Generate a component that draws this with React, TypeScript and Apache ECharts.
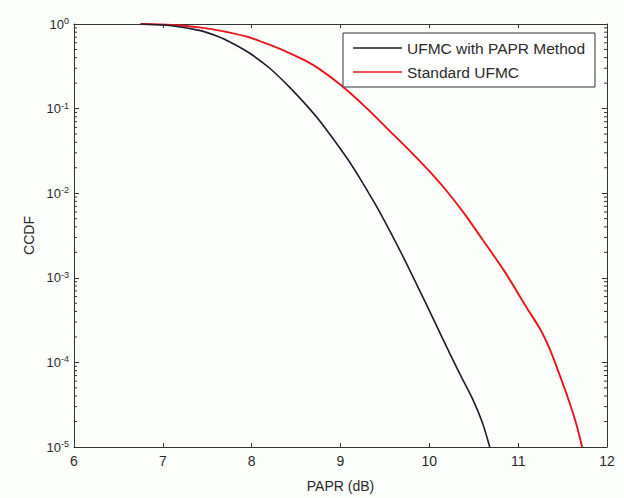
import React, { useEffect, useRef } from "react";
import * as echarts from "echarts";

// PAPR (dB) sample points and CCDF values
const blackX = [6.75, 7.1, 7.41, 7.6, 7.75, 7.97, 8.2, 8.42, 8.65, 8.8, 9.07, 9.21, 9.44, 9.7, 9.96, 10.15, 10.34, 10.49, 10.6, 10.68];
const blackY = [1, 0.955, 0.841, 0.724, 0.617, 0.457, 0.302, 0.182, 0.1, 0.0646, 0.0263, 0.0155, 0.00603, 0.00182, 0.000501, 0.000191, 0.0000741, 0.0000363, 0.0000191, 0.00001];

const redX = [6.75, 7.1, 7.41, 7.7, 7.97, 8.2, 8.42, 8.6, 8.76, 9.0, 9.3, 9.55, 9.8, 10.0, 10.2, 10.4, 10.6, 10.85, 11.1, 11.25, 11.35, 11.45, 11.58, 11.66, 11.72];
const redY = [1, 0.973, 0.912, 0.813, 0.697, 0.569, 0.457, 0.372, 0.295, 0.191, 0.1, 0.055, 0.0302, 0.0182, 0.01047, 0.00562, 0.00282, 0.001175, 0.000437, 0.000245, 0.000148, 0.0000794, 0.0000331, 0.0000178, 0.00001];

const seriesNames = ["UFMC with PAPR Method", "Standard UFMC"];
const xTicks = [6, 7, 8, 9, 10, 11, 12];
const yDecades = [0.00001, 0.0001, 0.001, 0.01, 0.1];
const minorMultipliers = [2, 3, 4, 5, 6, 7, 8, 9];

const FONT = "Liberation Sans, Arial, sans-serif";

export default function App() {
  const ref = useRef<HTMLDivElement>(null);
  useEffect(() => {
    if (!ref.current) return;
    const chart = echarts.init(ref.current, null, { renderer: "svg" });
    const minorData: number[][] = [];
    yDecades.forEach((d) => minorMultipliers.forEach((m) => minorData.push([xTicks[0], d * m])));
    const textColor = "#2a2a2a";
    const axisLine = { show: true, lineStyle: { color: "#333", width: 1 } };
    const baseX = {
      type: "value" as const,
      min: xTicks[0],
      max: xTicks[xTicks.length - 1],
      interval: 1,
      axisLine,
      axisTick: { show: true, inside: true, length: 4, lineStyle: { color: "#333" } },
      splitLine: { show: false },
    };
    const baseY = {
      type: "log" as const,
      logBase: 10,
      min: 0.00001,
      max: 1,
      axisLine,
      axisTick: { show: true, inside: true, length: 5, lineStyle: { color: "#333" } },
      splitLine: { show: false },
      minorTick: { show: false },
    };
    chart.setOption({
      animation: false,
      backgroundColor: "#fcfefc",
      grid: { left: 74, right: 17, top: 24, bottom: 43 },
      legend: {
        data: seriesNames.map((n) => ({ name: n, icon: "rect" })),
        orient: "vertical",
        left: 343,
        top: 33,
        padding: [6, 10, 6, 10],
        itemGap: 6,
        itemWidth: 49,
        itemHeight: 1.6,
        borderColor: "#333",
        borderWidth: 1,
        backgroundColor: "#ffffff",
        textStyle: { fontSize: 15.5, color: textColor, fontFamily: FONT, lineHeight: 18 },
      },
      xAxis: [
        {
          ...baseX,
          position: "bottom",
          name: "PAPR (dB)",
          nameLocation: "middle",
          nameGap: 32,
          nameTextStyle: { fontSize: 14, color: textColor, fontFamily: FONT },
          axisLabel: { fontSize: 14, color: textColor, margin: 7, fontFamily: FONT },
        },
        { ...baseX, position: "top", axisLabel: { show: false } },
      ],
      yAxis: [
        {
          ...baseY,
          position: "left",
          name: "CCDF",
          nameLocation: "middle",
          nameGap: 36,
          nameTextStyle: { fontSize: 14, color: textColor, fontFamily: FONT },
          axisLabel: {
            margin: 5,
            formatter: (v: number) => `{b|10}{s|${Math.round(Math.log10(v))}}`,
            rich: {
              b: { fontSize: 13, lineHeight: 15, color: textColor, fontFamily: FONT },
              s: { fontSize: 9, lineHeight: 9, verticalAlign: "top", color: textColor, fontFamily: FONT },
            },
          },
        },
        { ...baseY, position: "right", axisLabel: { show: false } },
      ],
      series: [
        {
          name: seriesNames[0],
          type: "line",
          data: blackX.map((x, i) => [x, blackY[i]]),
          symbol: "none",
          smooth: 0.25,
          color: "#1c1c2c",
          lineStyle: { width: 1.6, color: "#1c1c2c" },
          z: 3,
        },
        {
          name: seriesNames[1],
          type: "line",
          data: redX.map((x, i) => [x, redY[i]]),
          symbol: "none",
          smooth: 0.25,
          color: "#e8161c",
          lineStyle: { width: 1.9, color: "#e8161c" },
          z: 2,
        },
        {
          type: "custom",
          silent: true,
          clip: false,
          z: 5,
          data: minorData,
          renderItem: (params: any, api: any) => {
            const y = api.coord([api.value(0), api.value(1)])[1];
            const cs = params.coordSys;
            const st = { stroke: "#333", lineWidth: 1 };
            return {
              type: "group",
              children: [
                { type: "line", shape: { x1: cs.x, y1: y, x2: cs.x + 3, y2: y }, style: st },
                { type: "line", shape: { x1: cs.x + cs.width - 3, y1: y, x2: cs.x + cs.width, y2: y }, style: st },
              ],
            };
          },
        },
      ],
    });
    return () => chart.dispose();
  }, []);
  return <div ref={ref} style={{ position: "fixed", left: 0, top: 0, width: 624, height: 498 }} />;
}
